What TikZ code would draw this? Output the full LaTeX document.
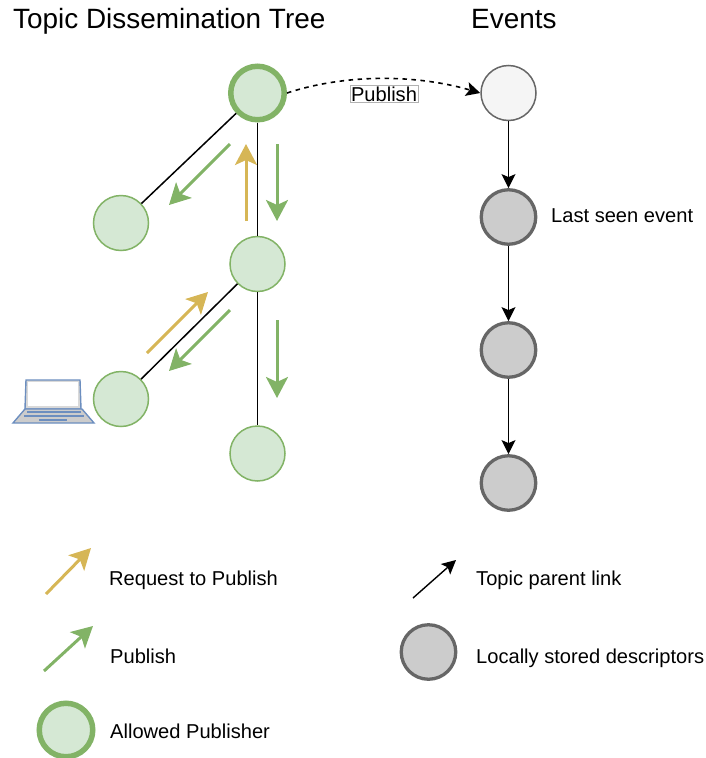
\documentclass[tikz,border=0pt]{standalone}
\usepackage{fontspec}
\setmainfont{Liberation Sans}
\usetikzlibrary{arrows.meta}
\definecolor{greenfill}{HTML}{D5E8D4}
\definecolor{greenline}{HTML}{82B366}
\definecolor{yellowline}{HTML}{D6B656}
\definecolor{greyline}{HTML}{666666}
\definecolor{laptopline}{HTML}{6C8EBF}
\tikzset{
  topicnode/.style={circle, draw=greenline, fill=greenfill, line width=1.5pt, minimum size=55pt, inner sep=0pt},
  allowednode/.style={circle, draw=greenline, fill=greenfill, line width=5.5pt, minimum size=53.5pt, inner sep=0pt},
  eventnode/.style={circle, draw=greyline, fill=black!20, line width=3.3pt, minimum size=54.5pt, inner sep=0pt},
  firstevent/.style={circle, draw=greyline, fill=black!4, line width=1.5pt, minimum size=55pt, inner sep=0pt},
  requestarrow/.style={draw=yellowline, line width=3pt, -{Stealth[length=21pt,width=22pt,inset=5pt]}},
  publisharrow/.style={draw=greenline, line width=3pt, -{Stealth[length=21pt,width=22pt,inset=5pt]}},
  parentlink/.style={black, line width=1.4pt, -{Stealth[length=14pt,width=14pt,inset=3pt]}},
  treelink/.style={black, line width=1.5pt},
  titletext/.style={anchor=base west, inner sep=0pt, font=\fontsize{27.9}{32}\selectfont},
  labeltext/.style={anchor=base west, inner sep=0pt, font=\fontsize{20.1}{24}\selectfont}
}
\begin{document}
\begin{tikzpicture}[x=1pt, y=-1pt]
\useasboundingbox (0,0) rectangle (706,758);

% Titles
\node[titletext] (treetitle) at (13,28.5) {Topic Dissemination Tree};
\node[titletext] (eventstitle) at (471,28.5) {Events};

% Topic tree
\node[allowednode] (root) at (257.5,93) {};
\node[topicnode] (left) at (121,223) {};
\node[topicnode] (middle) at (257.5,264) {};
\node[topicnode] (publisher) at (121,399) {};
\node[topicnode] (bottom) at (257.5,453.5) {};

\draw[treelink] (root) -- (left);
\draw[treelink] (root) -- (middle);
\draw[treelink] (middle) -- (publisher);
\draw[treelink] (middle) -- (bottom);

% Events
\node[firstevent] (eventa) at (508.5,93) {};
\node[eventnode] (eventb) at (508.5,217) {};
\node[eventnode] (eventc) at (508.5,350) {};
\node[eventnode] (eventd) at (508.5,483) {};

\draw[parentlink] (eventa) -- (eventb);
\draw[parentlink] (eventb) -- (eventc);
\draw[parentlink] (eventc) -- (eventd);
\node[labeltext] (lastseen) at (551,222) {Last seen event};

% Publish curve
\draw[parentlink, line width=1.6pt, dash pattern=on 4.5pt off 4.5pt] (root.east) .. controls (345,74) and (415,74) .. (eventa.west);
\node[draw=black!30, line width=0.7pt, fill=white, inner sep=1pt, font=\fontsize{20.1}{24}\selectfont] (publishlabel) at (384,94) {Publish};

% Request and publish arrows
\coordinate (ra) at (246,221);
\coordinate (rb) at (246,144);
\coordinate (rc) at (147,353);
\coordinate (rd) at (208,292);
\coordinate (pa) at (230,144);
\coordinate (pb) at (169,205);
\coordinate (pc) at (277,144);
\coordinate (pd) at (277,221);
\coordinate (pe) at (230,310);
\coordinate (pf) at (169,371);
\coordinate (pg) at (277,320);
\coordinate (ph) at (277,398);
\draw[requestarrow] (ra) -- (rb);
\draw[requestarrow] (rc) -- (rd);
\draw[publisharrow] (pa) -- (pb);
\draw[publisharrow] (pc) -- (pd);
\draw[publisharrow] (pe) -- (pf);
\draw[publisharrow] (pg) -- (ph);

% Laptop
\filldraw[draw=laptopline, fill=black!15, line width=1.4pt] (26,380) -- (80,380) -- (81,409) -- (25,409) -- cycle;
\fill[white] (28,382) rectangle (78,406);
\filldraw[draw=laptopline, fill=black!20, line width=1.4pt] (25,409) -- (82,409) -- (94,423) -- (13,423) -- cycle;
\draw[laptopline, line width=1.2pt] (27,412) -- (81,412);
\draw[laptopline, line width=1.2pt] (24,416) -- (84,416);
\draw[laptopline, line width=1.2pt] (39,420) -- (67,420);

% Legend
\coordinate (lra) at (46,594);
\coordinate (lrb) at (91,548);
\coordinate (lpa) at (44,671);
\coordinate (lpb) at (93,626);
\coordinate (lla) at (413,598);
\coordinate (llb) at (456,560);
\draw[requestarrow] (lra) -- (lrb);
\draw[publisharrow] (lpa) -- (lpb);
\draw[parentlink] (lla) -- (llb);
\node[allowednode] (legendallowed) at (66,730) {};
\node[eventnode] (legendstored) at (428.5,652) {};
\node[labeltext] (legendrequest) at (109,585) {Request to Publish};
\node[labeltext] (legendpublish) at (110,663) {Publish};
\node[labeltext] (legendpublisher) at (110,738) {Allowed Publisher};
\node[labeltext] (legendparent) at (476,585) {Topic parent link};
\node[labeltext] (legendstoredtext) at (476,663) {Locally stored descriptors};
\end{tikzpicture}
\end{document}
